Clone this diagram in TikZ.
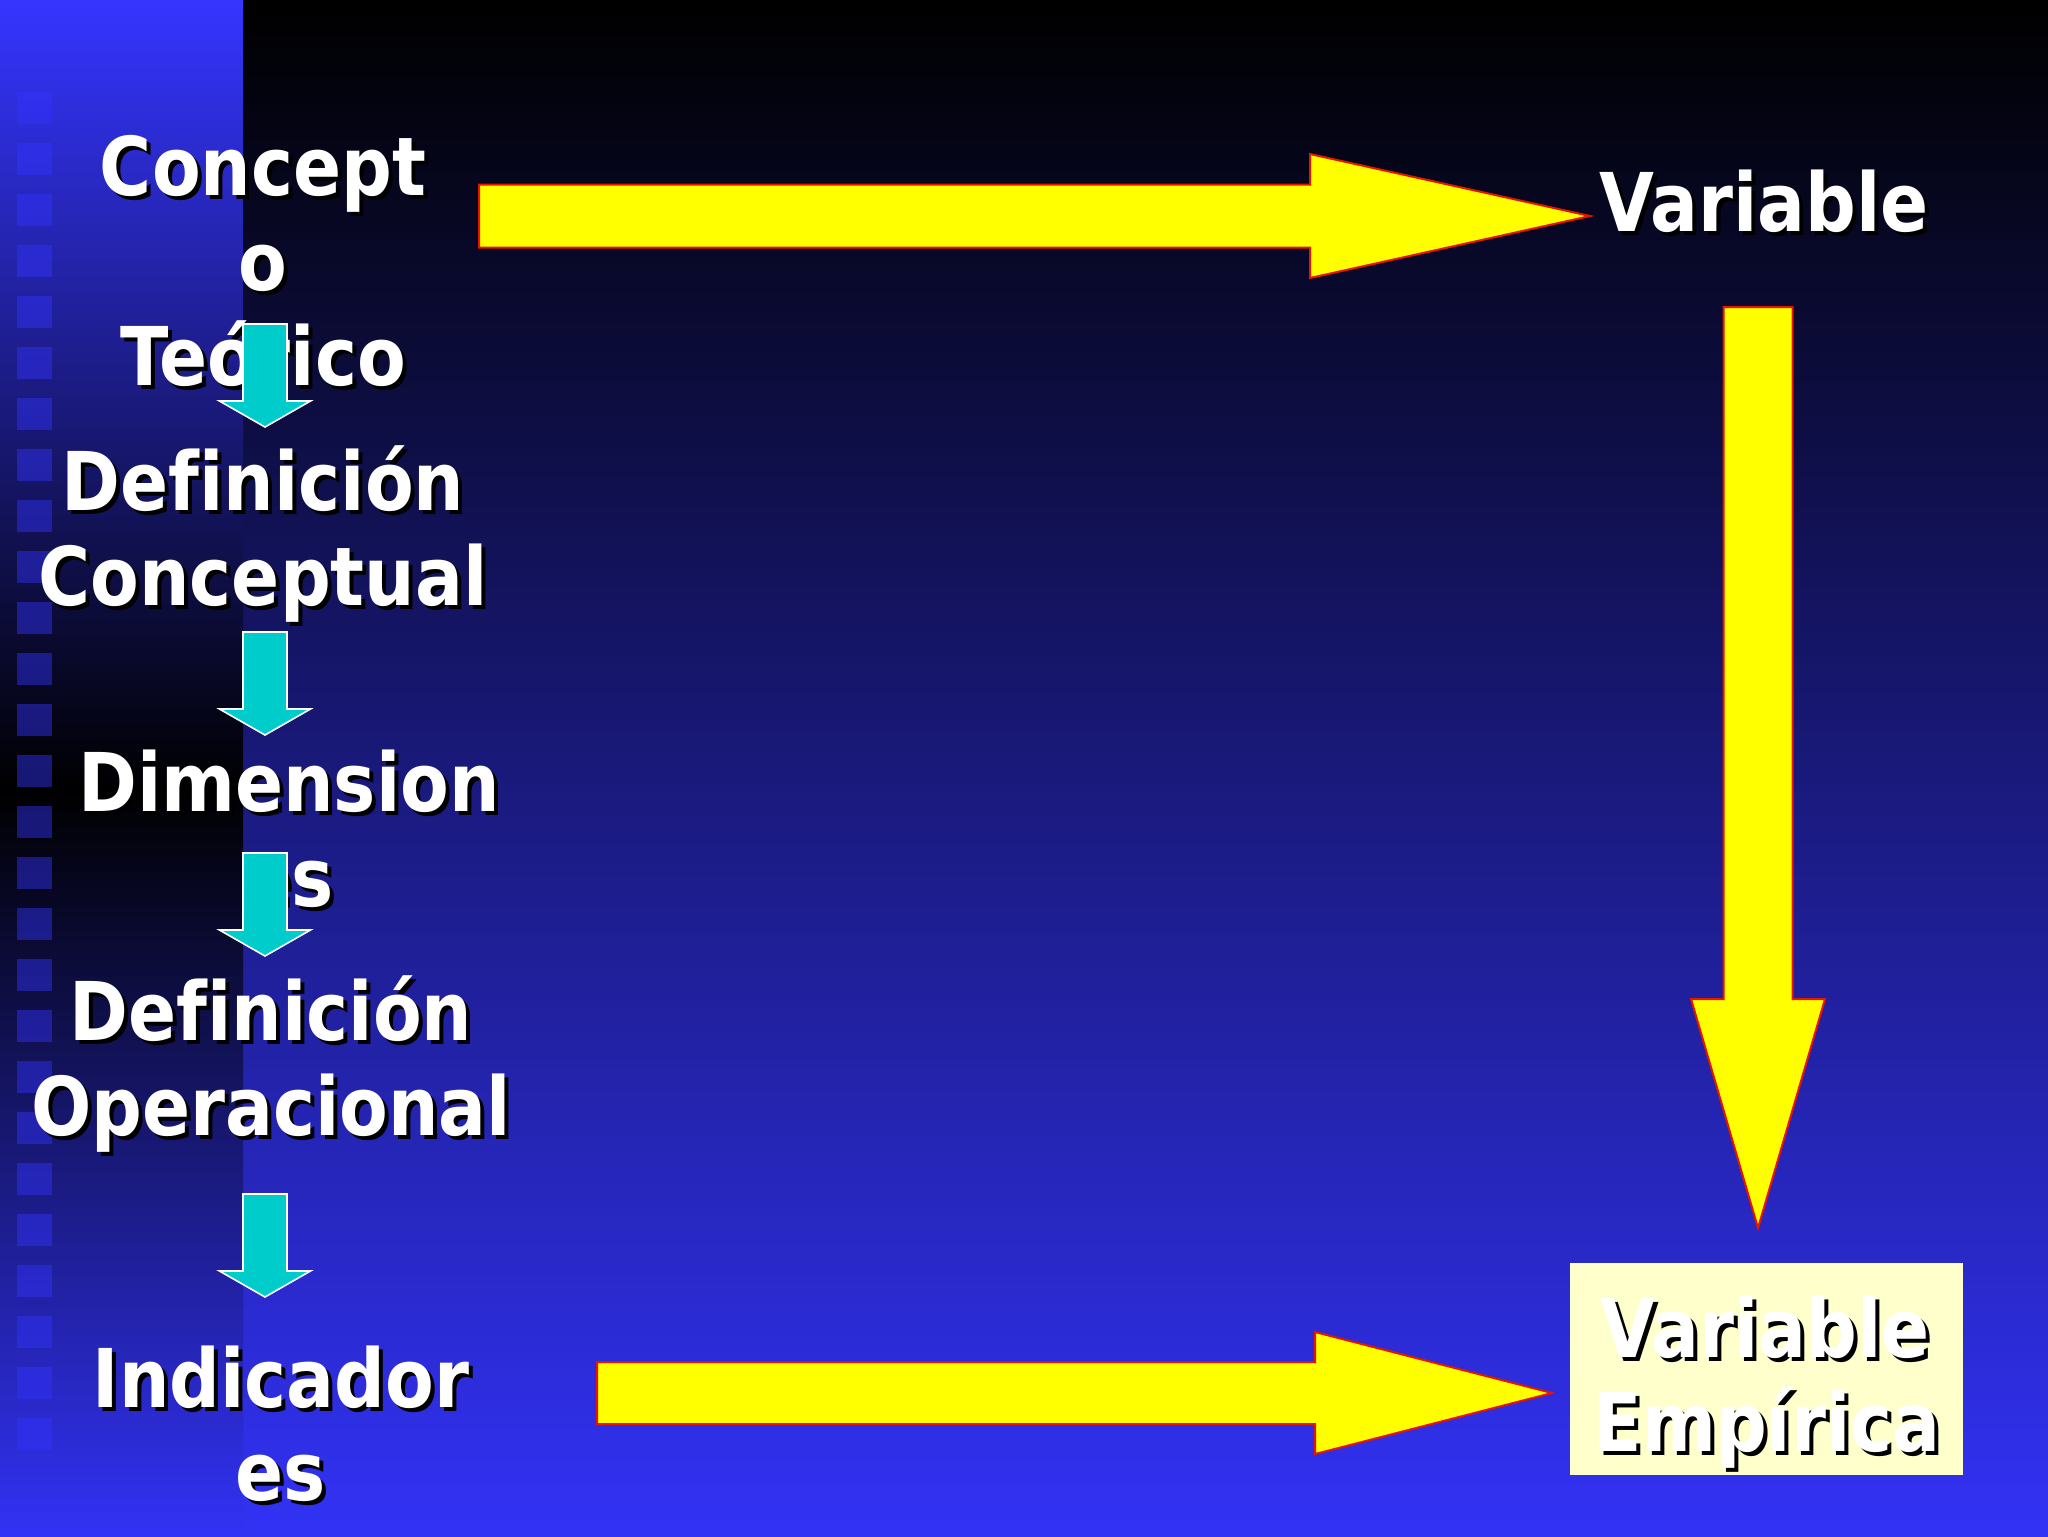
\documentclass[tikz,border=0pt]{standalone}
\usepackage{fontspec}
\newfontfamily\vf{DejaVu Sans}[FakeStretch=0.875,Ligatures=NoCommon]
\definecolor{bgblue}{RGB}{50,50,245}
\definecolor{stripblue}{RGB}{53,53,255}
\definecolor{sqblue}{RGB}{51,51,255}
\definecolor{cyanfill}{RGB}{0,204,204}
\definecolor{boxfill}{RGB}{255,255,204}
\definecolor{yel}{RGB}{255,255,0}
\definecolor{redline}{RGB}{230,20,0}
\tikzset{
  txt/.style={font=\vf\bfseries\fontsize{30.4}{35}\selectfont, text=white, inner sep=0pt, anchor=base},
  shd/.style={txt, text=black},
  yarrow/.style={fill=yel, draw=redline, line width=0.75pt, line join=miter},
  carrow/.style={fill=cyanfill, draw=white, line width=0.6pt, line join=miter},
  sq/.style={fill=sqblue, fill opacity=0.45, draw=none}
}
\newcommand\txtline[4]{%
  \node[shd] (#1s) at (#2+4,#3+4) {#4};
  \node[txt] (#1) at (#2,#3) {#4};}
\begin{document}
\begin{tikzpicture}[x=0.375pt,y=-0.375pt]
\useasboundingbox (0,0) rectangle (2048,1536);
% background
\shade[top color=black, bottom color=bgblue] (243,0) rectangle (2048,1536);
\shade[top color=stripblue, bottom color=black] (0,0) rectangle (243,790);
\shade[top color=black, bottom color=bgblue] (0,789) rectangle (243,1536);
\foreach \k in {0,...,26}{
  \fill[sq] (17,92+51*\k) rectangle (52,124+51*\k);
}
% left column text
\txtline{c1}{263}{195}{Concept}
\txtline{c2}{263}{290}{o}
\txtline{c3}{263}{385}{Teórico}
\txtline{d1}{263}{510}{Definición}
\txtline{d2}{263}{605}{Conceptual}
\txtline{m1}{289}{811}{Dimension}
\txtline{m2}{289}{906}{es}
\txtline{o1}{271}{1040}{Definición}
\txtline{o2}{271}{1135}{Operacional}
\txtline{i1}{281}{1407}{Indicador}
\txtline{i2}{281}{1500}{es}
% right side
\txtline{v}{1764}{231}{Variable}
\node[fill=boxfill, inner sep=0pt, minimum width=147.4pt, minimum height=79.5pt] (box) at (1766.5,1369) {};
\txtline{e1}{1765}{1357}{Variable}
\txtline{e2}{1767}{1451}{Empírica}
% cyan arrows
\coordinate (k1s) at (265,324); \coordinate (k1t) at (265,427);
\coordinate (k2s) at (265,632); \coordinate (k2t) at (265,735);
\coordinate (k3s) at (265,853); \coordinate (k3t) at (265,956);
\coordinate (k4s) at (265,1194); \coordinate (k4t) at (265,1297);
\foreach \n in {1,2,3,4}{
  \draw[carrow] (k\n s) ++(-22,0) -- ++(0,77) -- ++(-23.5,0) -- (k\n t)
     -- ++(45.5,-26) -- ++(-23.5,0) -- ++(0,-77) -- cycle;
}
% yellow arrows
\coordinate (a1s) at (479,216); \coordinate (a1t) at (1590,216);
\draw[yarrow] (a1s) ++(0,-31.5) -- ++(831,0) -- ++(0,-30.5) -- (a1t)
   -- ++(-280,62) -- ++(0,-30.5) -- ++(-831,0) -- cycle;
\coordinate (a2s) at (1758,307); \coordinate (a2t) at (1758,1228);
\draw[yarrow] (a2s) ++(-34.5,0) -- ++(0,692) -- ++(-32.5,0) -- (a2t)
   -- ++(67,-229) -- ++(-32.5,0) -- ++(0,-692) -- cycle;
\coordinate (a3s) at (597,1393); \coordinate (a3t) at (1552,1393);
\draw[yarrow] (a3s) ++(0,-31) -- ++(718,0) -- ++(0,-30) -- (a3t)
   -- ++(-237,61) -- ++(0,-30) -- ++(-718,0) -- cycle;
\end{tikzpicture}
\end{document}
